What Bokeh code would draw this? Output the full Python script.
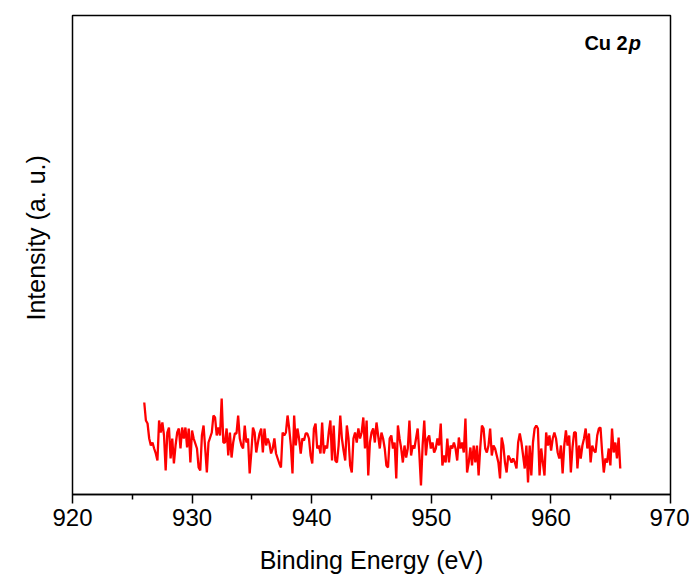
import numpy as np
from bokeh.plotting import figure
from bokeh.models import Range1d, FixedTicker, Label, Title
from bokeh.embed import file_html
from bokeh.resources import INLINE

# Intensity (arbitrary units), 926 -> 965.8 eV
intensity = [
    90, 72, 69, 54, 47, 50, 44, 39, 32, 72, 60, 70, 57, 22, 60, 65, 34, 54, 29, 47,
    60, 64, 44, 65, 54, 65, 45, 64, 30, 62, 54, 49, 44, 25, 22, 57, 67, 44, 20, 50,
    55, 60, 77, 75, 57, 65, 57, 94, 50,
    50, 64, 37, 60, 35, 50, 59, 59, 77, 54, 47, 44, 67, 50, 54, 19, 40, 65, 60, 40,
    50, 59, 64, 40, 64, 47, 54, 49, 39, 44, 54, 39, 34, 29, 25, 60, 57, 60, 77, 64,
    47, 19, 77, 47, 64, 54, 39, 54, 52, 59,
    59, 54, 37, 29, 64, 69, 44, 47, 39, 70, 39, 47, 44, 60, 72, 32, 67, 32, 30, 47,
    77, 54, 42, 32, 67, 54, 27, 20, 54, 60, 50, 64, 54, 60, 75, 44, 72, 17, 50, 60,
    64, 50, 70, 57, 44, 60, 54, 44, 27, 25, 54,
    57, 44, 50, 14, 67, 54, 44, 30, 47, 35, 44, 72, 37, 47, 44, 54, 64, 39, 7, 47,
    72, 37, 54, 57, 44, 50, 40, 44, 54, 47, 69, 27, 37, 30, 54, 30, 47, 44, 50, 44,
    32, 55, 44, 50, 40, 74, 20, 30, 45,
    27, 47, 30, 47, 17, 45, 67, 64, 44, 40, 47, 64, 37, 47, 44, 37, 30, 14, 55, 47,
    30, 20, 37, 34, 30, 34, 30, 24, 50, 59, 50, 37, 24, 47, 10, 47, 17, 50, 64, 67,
    64, 17, 44, 30, 17, 60, 47, 57, 42, 54,
    60, 54, 40, 34, 47, 19, 47, 62, 47, 57, 20, 45, 60, 60, 24, 47, 34, 47, 54, 64,
    44, 59, 30, 47, 42, 40, 57, 64, 65, 40, 20, 34, 30, 44, 27, 64, 40, 50, 34, 55,
    24,
]
energy = np.linspace(926.0, 965.8, len(intensity))

x_ticks = [920, 930, 940, 950, 960, 970]
x_minor = [925, 935, 945, 955, 965]

p = figure(width=689, height=579, output_backend="svg", toolbar_location=None,
           x_range=Range1d(920, 970), y_range=Range1d(-2, 477),
           min_border_left=70, min_border_right=19, min_border_top=15, min_border_bottom=85)
p.background_fill_color = "white"
p.border_fill_color = "white"
p.grid.visible = False
p.outline_line_color = "black"
p.outline_line_width = 1.5

p.line(energy, intensity, line_color="#ff0000", line_width=2.3)

ax = p.xaxis[0]
ax.ticker = FixedTicker(ticks=x_ticks, minor_ticks=x_minor)
ax.axis_line_width = 1.5
ax.axis_line_color = "black"
ax.major_tick_line_width = 1.5
ax.minor_tick_line_width = 1.5
ax.major_tick_line_color = "black"
ax.minor_tick_line_color = "black"
ax.major_tick_out = 9
ax.major_tick_in = 0
ax.minor_tick_out = 5
ax.minor_tick_in = 0
ax.major_label_text_font = "Liberation Sans"
ax.major_label_text_font_size = "24px"
ax.major_label_text_color = "black"
ax.major_label_standoff = 5
ax.axis_label = "Binding Energy (eV)"
ax.axis_label_text_font = "Liberation Sans"
ax.axis_label_text_font_size = "25px"
ax.axis_label_text_font_style = "normal"
ax.axis_label_text_color = "black"
ax.axis_label_standoff = 17

p.yaxis.visible = False

# y-axis title as a left-side title, placed a little above the frame centre
p.add_layout(Title(text="Intensity (a. u.)", align="left", offset=174, standoff=42,
                   vertical_align="top",
                   text_font="Liberation Sans", text_font_size="25px",
                   text_font_style="normal", text_color="black"), "left")

p.add_layout(Label(x=962.8, y=450, text="Cu 2", text_font="Liberation Sans",
                   text_font_size="20px", text_font_style="bold", text_color="black",
                   text_align="left", text_baseline="alphabetic"))
p.add_layout(Label(x=966.5, y=450, text="p", text_font="Liberation Sans",
                   text_font_size="20px", text_font_style="bold italic", text_color="black",
                   text_align="left", text_baseline="alphabetic"))

open("out.html", "w").write(file_html(p, INLINE))
